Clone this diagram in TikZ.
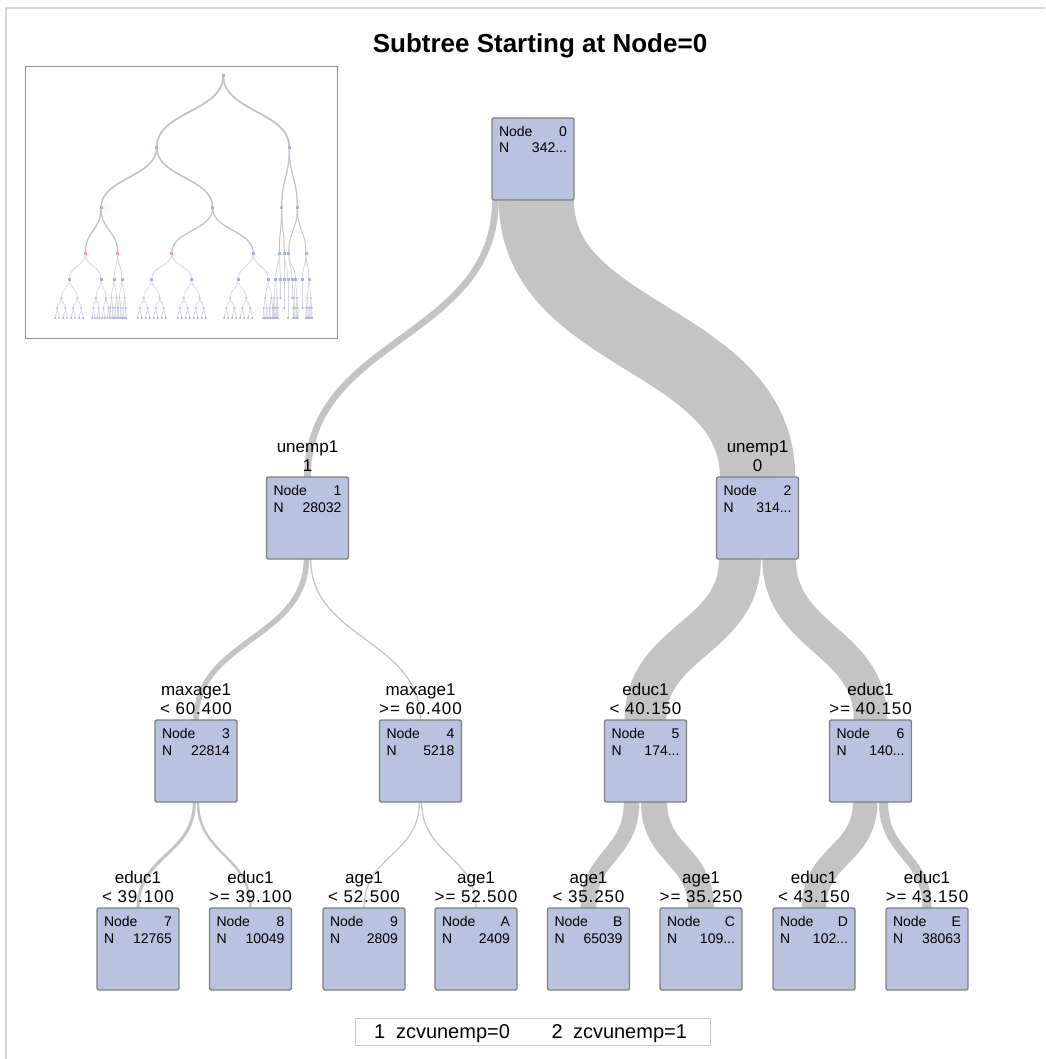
\documentclass[tikz,border=0pt]{standalone}
\usepackage{fontspec}
\setmainfont{Liberation Sans}
\newfontfamily\numfont[LetterSpace=5]{Liberation Sans}
\usetikzlibrary{calc,backgrounds}
\definecolor{bandc}{RGB}{196,196,196}
\definecolor{nodefill}{RGB}{185,194,222}
\definecolor{nodeline}{RGB}{128,128,128}
\definecolor{framec}{RGB}{215,215,215}
\definecolor{insetc}{RGB}{140,146,160}
\definecolor{ilinkc}{RGB}{195,195,197}
\definecolor{minic}{RGB}{214,214,220}
\definecolor{dotb}{RGB}{168,178,228}
\definecolor{dotr}{RGB}{236,160,160}
\definecolor{legc}{RGB}{200,200,200}

\tikzset{
  tnode/.style={draw=nodeline, fill=nodefill, line width=1.4pt, rounded corners=2pt,
    minimum width=82pt, minimum height=82pt, inner sep=0pt, outer sep=0pt},
  ntext/.style={font=\fontsize{14}{15}\selectfont, inner sep=0pt, outer sep=0pt},
  lbl/.style={font=\fontsize{17}{18}\selectfont, inner sep=0pt, outer sep=0pt, anchor=base},
  nlbl/.style={font=\numfont\fontsize{17}{18}\selectfont, inner sep=0pt, outer sep=0pt, anchor=base},
  band/.style={draw=bandc, line cap=butt},
  ilk/.style={draw=ilinkc, line width=1.4pt},
  minil/.style={draw=minic, line width=0.7pt},
  legt/.style={font=\fontsize{20}{21}\selectfont, inner sep=0pt, outer sep=0pt, anchor=base west},
  pics/fork/.style={code={
    \pgfmathsetmacro\fkW{#1}
    \foreach \s in {-1,1}{
      \pgfmathsetmacro\fkA{\s*\fkW}
      \draw[minil] (0,0) .. controls (0,9.5) and (\fkA,9.5) .. (\fkA,19);
      \fill[dotb] (\fkA,19) circle (1.1);
      \foreach \t in {-1,1}{
        \pgfmathsetmacro\fkB{\fkA+\t*\fkW/2}
        \draw[minil] (\fkA,19) .. controls (\fkA,24) and (\fkB,24) .. (\fkB,29);
        \fill[dotb] (\fkB,29) circle (1.1);
        \foreach \u in {-1,1}{
          \pgfmathsetmacro\fkC{\fkB+\u*\fkW/4}
          \draw[minil] (\fkB,29) .. controls (\fkB,34) and (\fkC,34) .. (\fkC,39);
          \fill[dotb] (\fkC,39) circle (1.1);
        }
      }
    }
  }},
  pics/twig/.style={code={
    \draw[minil] (0,0) -- (0,#1);
    \fill[dotb] (0,#1) circle (1.1);
  }}
}

% tree node: name, x, top y, id, N
\newcommand{\treenode}[5]{%
  \node[tnode, anchor=north] (#1) at (#2,#3) {};
  \node[ntext, anchor=base west] (#1-a) at ($(#1.north west)+(7,18.5)$) {Node};
  \node[ntext, anchor=base east] (#1-b) at ($(#1.north east)+(-7,18.5)$) {#4};
  \node[ntext, anchor=base west] (#1-c) at ($(#1.north west)+(7,35)$) {N};
  \node[ntext, anchor=base east] (#1-d) at ($(#1.north east)+(-7,35)$) {#5};
}
% split label: name, node, line1, line2
\newcommand{\splitlabel}[4]{%
  \node[lbl] (#1-1) at ($(#2.north)+(0,-24.5)$) {#3};
  \node[nlbl] (#1-2) at ($(#2.north)+(0,-5.5)$) {#4};
}
% band: from, x offset, to, width, control length
\newcommand{\bandlink}[5]{%
  \draw[band, line width=#4pt] ($(#1.south)+(#2,0)$) .. controls +(0,#5) and +(0,-#5) .. (#3.north);
}
% inset link
\newcommand{\ilink}[3][]{%
  \path ($(#2)!0.5!(#3)$) coordinate (tmpm);
  \draw[ilk,#1] (#2) .. controls (#2 |- tmpm) and (#3 |- tmpm) .. (#3);
}

\begin{document}
\begin{tikzpicture}[x=1pt,y=-1pt]
\useasboundingbox (0,0) rectangle (1045,1059);
\draw[framec, line width=1.5pt] (6,1059) -- (6,8) -- (1045,8);

% title
\node[font=\bfseries\fontsize{26}{28}\selectfont, anchor=base, inner sep=0pt] (title) at (540,53) {Subtree Starting at Node=0};

% ---------- inset overview ----------
\node[draw=insetc, line width=1.3pt, minimum width=312pt, minimum height=272pt,
      anchor=north west, inner sep=0pt] (inset) at (25,66) {};
\coordinate (r) at (223.3,75.7);
\coordinate (a) at (156.7,147.3);  \coordinate (b) at (289.3,147.3);
\coordinate (aa) at (101,207.7);   \coordinate (ab) at (212.7,207.7);
\coordinate (ba) at (281.7,207.7); \coordinate (bb) at (297.3,207.7);
\coordinate (aaa) at (85.3,253.3); \coordinate (aab) at (117.7,253.3);
\coordinate (aba) at (171.7,253.3);\coordinate (abb) at (253.3,253.3);
\coordinate (baa) at (279.3,253.3);\coordinate (bab) at (284.3,253.3);
\coordinate (bba) at (288.7,253.3);\coordinate (bbb) at (306,253.3);
\coordinate (aaa1) at (69.3,279);  \coordinate (aaa2) at (101,279);
\coordinate (aab1) at (114,279);   \coordinate (aab2) at (122,279);
\coordinate (aba1) at (151.7,279); \coordinate (aba2) at (191.7,279);
\coordinate (abb1) at (238.3,279); \coordinate (abb2) at (268.3,279);
\coordinate (baa1) at (275.5,279); \coordinate (baa2) at (280.5,279);
\coordinate (bab1) at (284.3,279); \coordinate (bab2) at (288,279);
\coordinate (bba1) at (292,279);   \coordinate (bba2) at (295.5,279);
\coordinate (bbb1) at (302.5,279); \coordinate (bbb2) at (309,279);

\ilink[line width=1.8pt]{r}{a}
\ilink[line width=1.8pt]{r}{b}
\ilink[line width=1.6pt]{a}{aa}
\ilink[line width=1.6pt]{a}{ab}
\ilink[line width=1.2pt]{b}{ba}
\ilink[line width=1.2pt]{b}{bb}
\ilink[line width=1.3pt]{aa}{aaa}
\ilink[line width=1.3pt]{aa}{aab}
\ilink[line width=1.3pt]{ab}{aba}
\ilink[line width=1.3pt]{ab}{abb}
\ilink[line width=1pt]{ba}{baa}
\ilink[line width=1pt]{ba}{bab}
\ilink[line width=1pt]{bb}{bba}
\ilink[line width=1pt]{bb}{bbb}
\foreach \p/\c in {aaa/aaa1,aaa/aaa2,aab/aab1,aab/aab2,aba/aba1,aba/aba2,abb/abb1,abb/abb2,
                   baa/baa1,baa/baa2,bab/bab1,bab/bab2,bba/bba1,bba/bba2,bbb/bbb1,bbb/bbb2}{
  \ilink[minil, line width=0.9pt]{\p}{\c}
}
\pic at (aaa1) {fork=8};
\pic at (aaa2) {fork=5};
\pic at (aab1) {fork=2.5};
\pic at (aab2) {fork=2.5};
\pic at (aba1) {fork=8};
\pic at (aba2) {fork=8};
\pic at (abb1) {fork=8};
\pic at (abb2) {fork=3};
\pic at (baa1) {fork=1.5};
\pic at (bba2) {fork=1.5};
\pic at (bbb2) {fork=1.8};
\foreach \c/\l in {baa2/19,bab1/29,bab2/39,bba1/19,bbb1/29}{
  \pic at (\c) {twig=\l};
}
\foreach \c in {r,b,ab,ba,bb,abb,baa,bab,bba,bbb,aaa1,aaa2,aab1,aab2,aba1,aba2,abb1,abb2,baa1,baa2,bab1,bab2,bba1,bba2,bbb1,bbb2}{
  \fill[dotb] ($(\c)+(-1.5,-1.5)$) rectangle ($(\c)+(1.5,1.5)$);
}
\foreach \c in {a,aa,aaa,aab,aba}{
  \fill[dotr] ($(\c)+(-1.5,-1.5)$) rectangle ($(\c)+(1.5,1.5)$);
}

% ---------- main tree nodes ----------
\treenode{n0}{533}{118}{0}{342...}
\treenode{n1}{307.5}{477}{1}{28032}
\treenode{n2}{757.5}{477}{2}{314...}
\treenode{n3}{196}{720}{3}{22814}
\treenode{n4}{420.5}{720}{4}{5218}
\treenode{n5}{645.5}{720}{5}{174...}
\treenode{n6}{870.5}{720}{6}{140...}
\treenode{n7}{138}{908}{7}{12765}
\treenode{n8}{250.5}{908}{8}{10049}
\treenode{n9}{364}{908}{9}{2809}
\treenode{nA}{476}{908}{A}{2409}
\treenode{nB}{588.5}{908}{B}{65039}
\treenode{nC}{701}{908}{C}{109...}
\treenode{nD}{814}{908}{D}{102...}
\treenode{nE}{927}{908}{E}{38063}

% ---------- bands ----------
\begin{scope}[on background layer]
\bandlink{n0}{-37.65}{n1}{6.7}{140}
\bandlink{n0}{3.35}{n2}{75.3}{140}
\bandlink{n1}{-1.13}{n3}{5.46}{80}
\bandlink{n1}{3.23}{n4}{1.25}{80}
\bandlink{n2}{-17.55}{n5}{41.8}{80}
\bandlink{n2}{21.65}{n6}{33.6}{80}
\bandlink{n3}{-1.7}{n7}{3.06}{53}
\bandlink{n3}{2.03}{n8}{2.41}{53}
\bandlink{n4}{-1.1}{n9}{1.2}{53}
\bandlink{n4}{1.1}{nA}{1.2}{53}
\bandlink{n5}{-13.85}{nB}{15.6}{53}
\bandlink{n5}{8.55}{nC}{26.2}{53}
\bandlink{n6}{-5.3}{nD}{24.5}{53}
\bandlink{n6}{13.0}{nE}{9.1}{53}
\end{scope}

% ---------- split labels ----------
\splitlabel{s1}{n1}{unemp1}{1}
\splitlabel{s2}{n2}{unemp1}{0}
\splitlabel{s3}{n3}{maxage1}{< 60.400}
\splitlabel{s4}{n4}{maxage1}{>= 60.400}
\splitlabel{s5}{n5}{educ1}{< 40.150}
\splitlabel{s6}{n6}{educ1}{>= 40.150}
\splitlabel{s7}{n7}{educ1}{< 39.100}
\splitlabel{s8}{n8}{educ1}{>= 39.100}
\splitlabel{s9}{n9}{age1}{< 52.500}
\splitlabel{sA}{nA}{age1}{>= 52.500}
\splitlabel{sB}{nB}{age1}{< 35.250}
\splitlabel{sC}{nC}{age1}{>= 35.250}
\splitlabel{sD}{nD}{educ1}{< 43.150}
\splitlabel{sE}{nE}{educ1}{>= 43.150}

% ---------- legend ----------
\node[draw=legc, line width=1pt, minimum width=355pt, minimum height=27pt,
      anchor=north west, inner sep=0pt] (legend) at (355,1018) {};
\node[legt] (leg1n) at (374,1038.5) {1};
\node[legt] (leg1t) at (396,1038.5) {zcvunemp=0};
\node[legt] (leg2n) at (551.5,1038.5) {2};
\node[legt] (leg2t) at (573,1038.5) {zcvunemp=1};
\end{tikzpicture}
\end{document}
